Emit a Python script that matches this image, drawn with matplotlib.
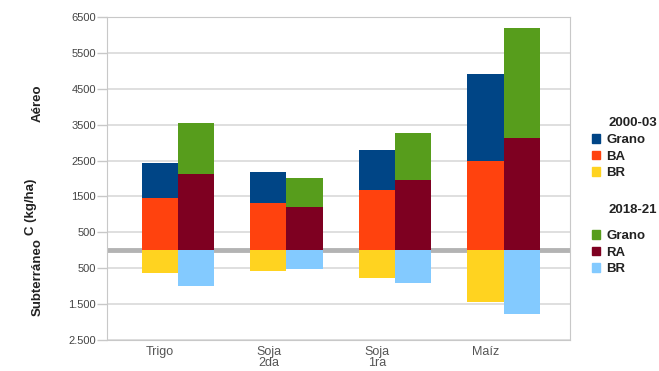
import matplotlib.pyplot as plt
import numpy as np
from matplotlib.patches import Patch

plt.rcParams['font.family'] = ['Liberation Sans', 'DejaVu Sans']

# datos (kg C/ha)
cultivos = ['Trigo', 'Soja\n2da', 'Soja\n1ra', 'Maíz']
# 2000-03
grano_00 = [950, 850, 1110, 2420]
ba_00 = [1470, 1320, 1690, 2500]
br_00 = [-640, -580, -760, -1440]
# 2018-21
grano_18 = [1420, 800, 1310, 3060]
ra_18 = [2130, 1210, 1970, 3130]
br_18 = [-990, -510, -900, -1780]

yticks = [6500, 5500, 4500, 3500, 2500, 1500, 500, -500, -1500, -2500]
ytick_labels = ['6500', '5500', '4500', '3500', '2500', '1500', '500',
                '500', '1.500', '2.500']

c_grano_00, c_ba, c_br_00 = '#004586', '#ff420e', '#ffd320'
c_grano_18, c_ra, c_br_18 = '#579d1c', '#7e0021', '#83caff'

fig = plt.figure(figsize=(6.59, 3.71), dpi=100)
ax = fig.add_axes([0.1624, 0.0836, 0.7026, 0.8706])

x = np.arange(len(cultivos))
w = 0.332

ax.bar(x - w/2, ba_00, w, color=c_ba, zorder=3)
ax.bar(x - w/2, grano_00, w, bottom=ba_00, color=c_grano_00, zorder=3)
ax.bar(x - w/2, br_00, w, color=c_br_00, zorder=3)
ax.bar(x + w/2, ra_18, w, color=c_ra, zorder=3)
ax.bar(x + w/2, grano_18, w, bottom=ra_18, color=c_grano_18, zorder=3)
ax.bar(x + w/2, br_18, w, color=c_br_18, zorder=3)

ax.axhline(0, color='#b3b3b3', lw=3.5, zorder=2)

ax.set_xlim(-0.654, 3.613)
ax.set_ylim(-2500, 6500)
ax.set_yticks(yticks)
ax.set_yticklabels(ytick_labels)
ax.set_xticks(x - w/2)
ax.set_xticklabels(cultivos, linespacing=0.95)
ax.grid(axis='y', color='#d9d9d9', lw=1.2, zorder=0)
ax.tick_params(axis='y', length=7, width=1, color='#c8c8c8', pad=1,
               labelsize=8, labelcolor='#444444')
ax.tick_params(axis='x', length=0, pad=4, labelsize=9, labelcolor='#555555')
for s in ax.spines.values():
    s.set_color('#c8c8c8')

# etiquetas del eje y
fig.text(31/659, 1-207/371, 'C (kg/ha)', rotation=90, ha='center', va='center',
         fontsize=9.5, fontweight='bold', color='#222222')
fig.text(38/659, 1-103/371, 'Aéreo', rotation=90, ha='center', va='center',
         fontsize=9.5, fontweight='bold', color='#222222')
fig.text(38/659, 1-277/371, 'Subterráneo', rotation=90, ha='center', va='center',
         fontsize=9.5, fontweight='bold', color='#222222')

# leyendas
fig.text(657/659, 1-123/371, '2000-03', ha='right', va='center',
         fontsize=9.5, fontweight='bold', color='#222222')
fig.text(657/659, 1-210/371, '2018-21', ha='right', va='center',
         fontsize=9.5, fontweight='bold', color='#222222')

h1 = [Patch(color=c_grano_00, label='Grano'), Patch(color=c_ba, label='BA'),
      Patch(color=c_br_00, label='BR')]
h2 = [Patch(color=c_grano_18, label='Grano'), Patch(color=c_ra, label='RA'),
      Patch(color=c_br_18, label='BR')]
leg_kw = dict(loc='upper left', frameon=False, handlelength=0.6, handleheight=0.6,
              handletextpad=0.5, labelspacing=0.35, borderpad=0, borderaxespad=0,
              prop={'size': 9.5, 'weight': 'bold'})
l1 = fig.legend(handles=h1, bbox_to_anchor=(592/659, 1-134/371), **leg_kw)
l2 = fig.legend(handles=h2, bbox_to_anchor=(592/659, 1-230/371), **leg_kw)
for lg in (l1, l2):
    for t in lg.get_texts():
        t.set_color('#222222')

fig.savefig('out.png', dpi=100)
